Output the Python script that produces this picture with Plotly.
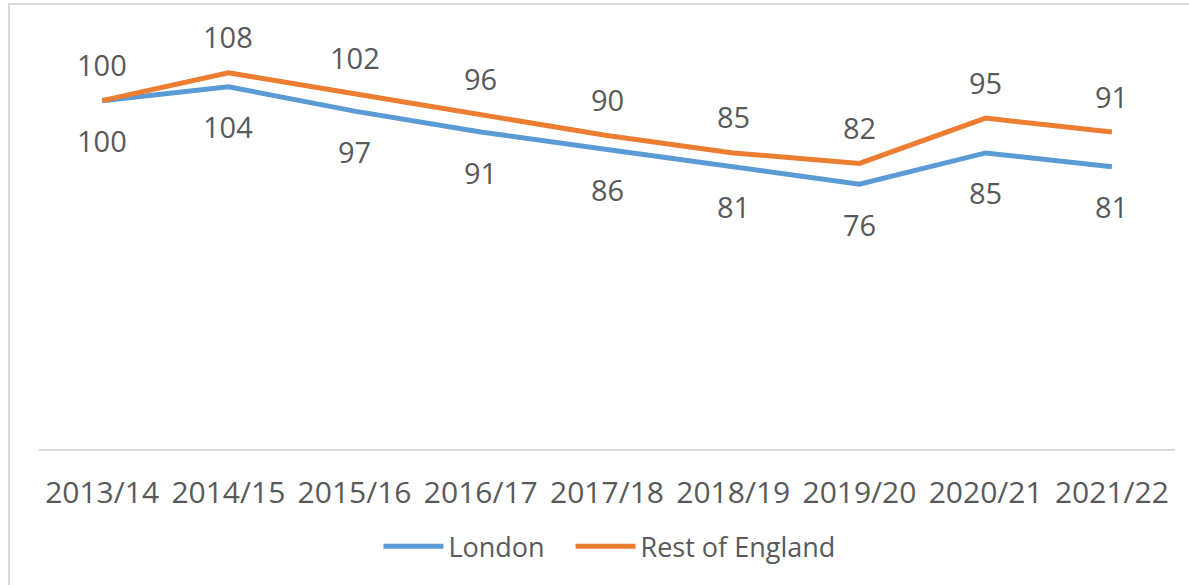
import plotly.graph_objects as go

years = ["2013/14", "2014/15", "2015/16", "2016/17", "2017/18", "2018/19", "2019/20", "2020/21", "2021/22"]
london = [100, 104, 97, 91, 86, 81, 76, 85, 81]
rest = [100, 108, 102, 96, 90, 85, 82, 95, 91]

BLUE = "#5B9BD5"
ORANGE = "#ED7D31"
TXT = "#595959"
FONT = "Open Sans"

fig = go.Figure()
fig.add_trace(go.Scatter(x=years, y=london, mode="lines", name="London",
                         line=dict(color=BLUE, width=5), legend="legend"))
fig.add_trace(go.Scatter(x=years, y=rest, mode="lines", name="Rest of England",
                         line=dict(color=ORANGE, width=5), legend="legend2"))

for x, v in zip(years, rest):
    fig.add_annotation(x=x, y=v, text=str(v), showarrow=False, yshift=36,
                       font=dict(size=29, color=TXT, family=FONT))
for x, v in zip(years, london):
    fig.add_annotation(x=x, y=v, text=str(v), showarrow=False, yshift=-40,
                       font=dict(size=29, color=TXT, family=FONT))

fig.add_shape(type="rect", xref="paper", yref="paper",
              x0=-0.0264, x1=1.2, y0=-1, y1=1.0646,
              line=dict(color="#D9D9D9", width=2), fillcolor="rgba(0,0,0,0)", layer="below")

leg_common = dict(orientation="h", xanchor="left", y=-0.234, yanchor="middle",
                  font=dict(size=27, color=TXT, family=FONT), itemwidth=60)

fig.update_layout(
    width=1189, height=585,
    margin=dict(l=39, r=14, t=31, b=136),
    paper_bgcolor="white", plot_bgcolor="white",
    font=dict(family=FONT, color=TXT, size=27),
    showlegend=True,
    legend=dict(x=0.2988, **leg_common),
    legend2=dict(x=0.4679, **leg_common),
    xaxis=dict(type="category", range=[-0.5, 8.5], showgrid=False, zeroline=False,
               showline=True, linecolor="#D9D9D9", linewidth=2, automargin=False,
               ticks="outside", ticklen=16, tickcolor="rgba(0,0,0,0)",
               tickfont=dict(size=30, color=TXT, family=FONT)),
    yaxis=dict(range=[0, 120], visible=False, showgrid=False, zeroline=False, automargin=False),
)

fig.write_html("out.html", config={"displayModeBar": False},
               post_script="document.body.style.margin='0';document.body.style.padding='0';")
